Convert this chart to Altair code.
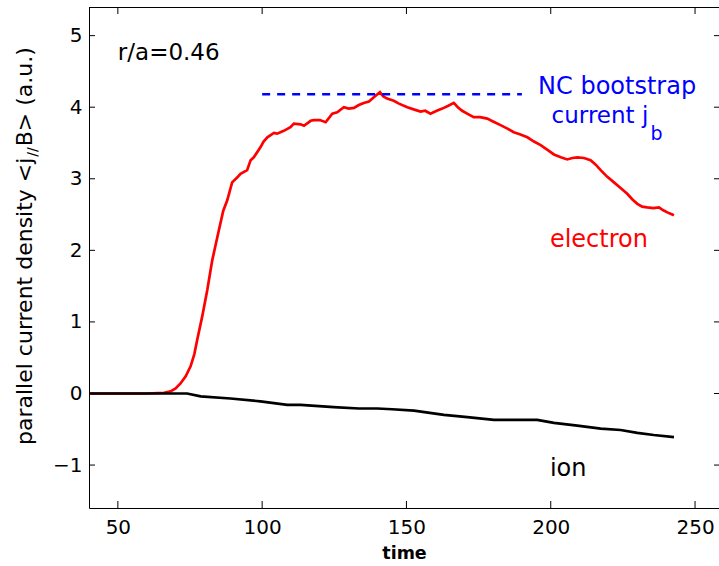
import altair as alt
import pandas as pd

# ---------------- data ----------------
e_time = [40, 60, 66, 68.3, 70, 71.7, 73.5, 75.2, 76.5, 77.5, 79.2, 81, 82.7, 84, 85, 86.5, 87.9,
          89.6, 91.4, 92.5, 94.8, 96, 97.1, 99.4, 100.5, 101.8, 104.1, 105.2, 107.5, 109.8, 111,
          113.3, 114.5, 116.8, 117.9, 120, 122, 124.3, 126, 128.3, 130, 131.8, 133.5, 135.2, 137,
          138.7, 140.8, 142, 143.3, 145.6, 147.4, 150.3, 152.5, 154.9, 156.5, 158.3, 160.5, 162.4,
          164.5, 166.4, 167.8, 169.3, 171.5, 173.3, 175.5, 178, 180, 182.6, 185, 187.2, 189.5,
          191.9, 194.2, 196.5, 199, 201.1, 203.5, 205.7, 207.5, 209.2, 211.5, 213.8, 215.5, 217.3,
          219.5, 221.9, 224.2, 226.5, 228.3, 230, 231.7, 233.4, 235.5, 237.5, 239, 240.4, 241.5, 242.7]
e_val = [0, 0, 0.01, 0.03, 0.07, 0.14, 0.24, 0.38, 0.55, 0.75, 1.07, 1.45, 1.86, 2.1, 2.28, 2.55, 2.70,
         2.95, 3.02, 3.07, 3.12, 3.26, 3.30, 3.44, 3.52, 3.58, 3.64, 3.63, 3.67, 3.72, 3.77,
         3.76, 3.74, 3.81, 3.82, 3.82, 3.79, 3.91, 3.93, 4.00, 3.98, 3.99, 4.03, 4.06, 4.08,
         4.14, 4.21, 4.15, 4.12, 4.09, 4.05, 4.00, 3.97, 3.94, 3.95, 3.91, 3.95, 3.98,
         4.02, 4.06, 4.00, 3.95, 3.90, 3.86, 3.86, 3.84, 3.80, 3.75, 3.70, 3.65, 3.62,
         3.58, 3.52, 3.47, 3.40, 3.34, 3.30, 3.27, 3.29, 3.30, 3.29, 3.26, 3.20, 3.12,
         3.03, 2.95, 2.87, 2.79, 2.71, 2.65, 2.61, 2.60, 2.59, 2.60, 2.56, 2.53, 2.51, 2.49]

i_time = [40, 74, 78.7, 89, 99.4, 108.7, 113.3, 124.8, 133.5, 139.9, 145, 152.6, 163, 171.1,
          180.3, 195.3, 201.1, 209.2, 217.3, 224.2, 230, 235.7, 242.7]
i_val = [0, 0, -0.04, -0.07, -0.11, -0.16, -0.16, -0.19, -0.21, -0.21, -0.22, -0.24, -0.30, -0.33,
         -0.37, -0.37, -0.41, -0.45, -0.49, -0.51, -0.55, -0.58, -0.61]

boot_start = [100]
boot_end = [190]
boot_val = [4.18]

x_ticks = [50, 100, 150, 200, 250]
y_ticks = [-1, 0, 1, 2, 3, 4, 5]

ann_text = ["r/a=0.46", "NC bootstrap", "current j", "b", "electron", "ion"]
ann_x = [50, 195.6, 200.3, 234.6, 199.7, 199.7]
ann_y = [4.66, 4.19, 3.775, 3.54, 2.05, -1.15]
ann_color = ["#000000", "#0000ff", "#0000ff", "#0000ff", "#ff0000", "#000000"]
ann_size = [23, 24, 23, 19, 24, 24]

ylab_parts = ["parallel current density <j", "//", "B> (a.u.)"]

# ---------------- layout ----------------
W, H = 630, 501
FONT = "DejaVu Sans"
xs = alt.Scale(domain=[40, 258.3], nice=False, zero=False)
ys = alt.Scale(domain=[-1.6, 5.4], nice=False, zero=False)

df_e = pd.DataFrame({"time": e_time, "value": e_val})
df_i = pd.DataFrame({"time": i_time, "value": i_val})
df_b = pd.DataFrame({"t0": boot_start, "t1": boot_end, "v": boot_val})
df_xt = pd.DataFrame({"t": x_ticks})
df_yt = pd.DataFrame({"v": y_ticks})

xaxis = alt.Axis(values=x_ticks, format="d", title="time", grid=False, ticks=False, tickSize=0,
                 labelPadding=9, labelFont=FONT, labelFontSize=20, labelColor="black",
                 titleFont=FONT, titleFontSize=17.5, titleFontWeight="bold", titleColor="black",
                 titlePadding=7, domain=True, domainColor="black", domainWidth=1)
yaxis = alt.Axis(values=y_ticks, format="d", title=None, grid=False, ticks=False, tickSize=0,
                 labelPadding=7, labelFont=FONT, labelFontSize=20, labelColor="black",
                 domain=True, domainColor="black", domainWidth=1)

electron = alt.Chart(df_e).mark_line(color="#ff0000", strokeWidth=2.7).encode(
    x=alt.X("time:Q", scale=xs, axis=xaxis),
    y=alt.Y("value:Q", scale=ys, axis=yaxis),
)
ion = alt.Chart(df_i).mark_line(color="#000000", strokeWidth=2.7).encode(
    x=alt.X("time:Q", scale=xs),
    y=alt.Y("value:Q", scale=ys),
)
boot = alt.Chart(df_b).mark_rule(color="#0000ff", strokeWidth=2.5, strokeDash=[8, 7]).encode(
    x=alt.X("t0:Q", scale=xs), x2="t1:Q", y=alt.Y("v:Q", scale=ys)
)

# inward ticks and the top frame line
tick_style = dict(color="black", strokeWidth=1)
bot_ticks = alt.Chart(df_xt).mark_rule(**tick_style).encode(
    x=alt.X("t:Q", scale=xs), y=alt.value(H), y2=alt.value(H - 7))
top_ticks = alt.Chart(df_xt).mark_rule(**tick_style).encode(
    x=alt.X("t:Q", scale=xs), y=alt.value(0), y2=alt.value(7))
left_ticks = alt.Chart(df_yt).mark_rule(**tick_style).encode(
    y=alt.Y("v:Q", scale=ys), x=alt.value(0), x2=alt.value(6))
right_ticks = alt.Chart(df_yt).mark_rule(**tick_style).encode(
    y=alt.Y("v:Q", scale=ys), x=alt.value(W), x2=alt.value(W - 5))
top_line = alt.Chart(df_xt.head(1)).mark_rule(**tick_style).encode(
    y=alt.value(0.5), x=alt.value(0), x2=alt.value(W))

# annotations
ann_layers = []
for t, xv, yv, c, s in zip(ann_text, ann_x, ann_y, ann_color, ann_size):
    d = pd.DataFrame({"x": [xv], "y": [yv], "label": [t]})
    ann_layers.append(
        alt.Chart(d).mark_text(align="left", baseline="alphabetic", font=FONT,
                               fontSize=s, color=c).encode(
            x=alt.X("x:Q", scale=xs), y=alt.Y("y:Q", scale=ys), text="label:N")
    )

# rotated y-axis title with subscript
main_size, sub_size = 22, 14
w1 = 13.105 * main_size
w2 = 0.674 * sub_size
base_x = -57
start_y = 438
ylab_pos = [(base_x, start_y, main_size), (base_x + 5, start_y - w1, sub_size),
            (base_x, start_y - w1 - w2 - 1, main_size)]
ylab_layers = []
for t, (px, py, s) in zip(ylab_parts, ylab_pos):
    d = pd.DataFrame({"label": [t]})
    ylab_layers.append(
        alt.Chart(d).mark_text(align="left", baseline="alphabetic", angle=270, font=FONT,
                               fontSize=s, color="black").encode(
            x=alt.value(px), y=alt.value(py), text="label:N")
    )

chart = alt.layer(
    electron, ion, boot, bot_ticks, top_ticks, left_ticks, right_ticks, top_line,
    *ann_layers, *ylab_layers
).properties(
    width=W, height=H,
    padding={"left": 89, "top": 7, "right": 0, "bottom": 58},
    autosize=alt.AutoSizeParams(type="none"),
).configure_view(stroke=None).configure(background="white")

chart.save("out.html", embed_options={"renderer": "svg", "actions": False})
